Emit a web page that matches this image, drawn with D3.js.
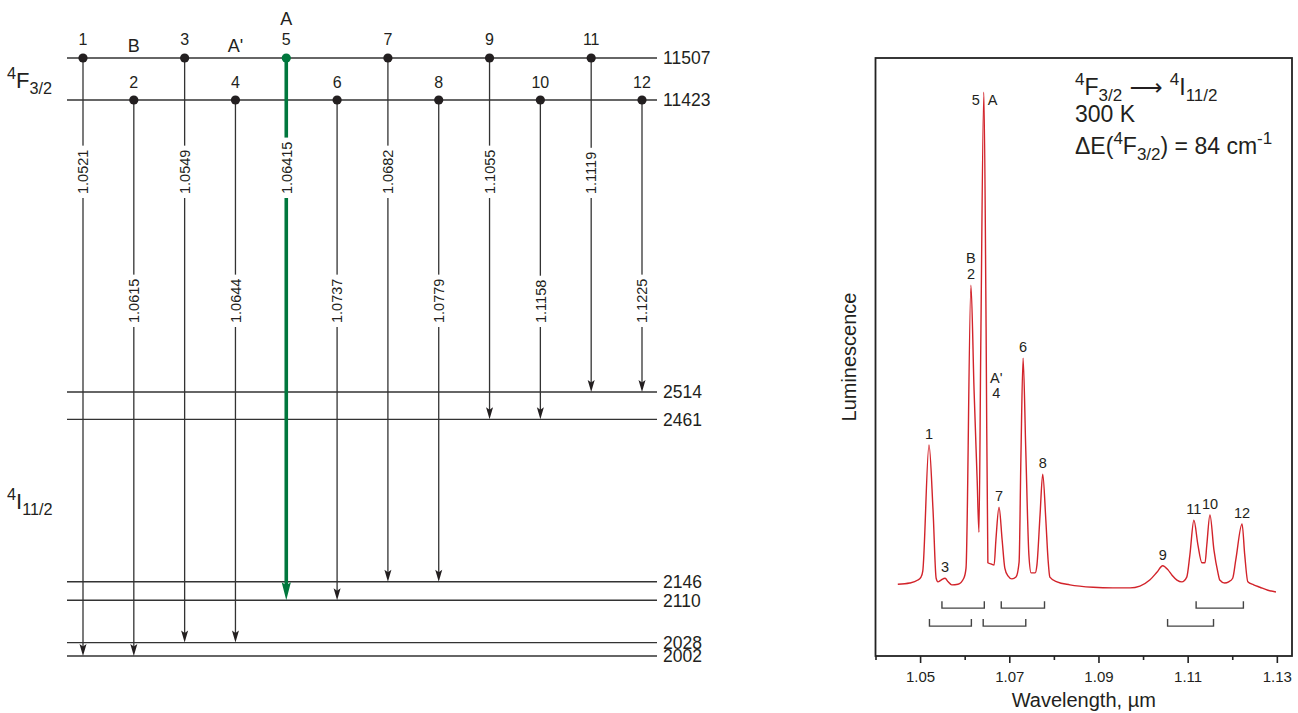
<!DOCTYPE html>
<html>
<head>
<meta charset="utf-8">
<title>Nd 4F3/2 - 4I11/2 luminescence</title>
<script src="https://cdn.jsdelivr.net/npm/d3@7"></script>
<style>
    html, body {margin: 0; padding: 0; background: #fff;}
    svg {display: block; font-family: "Liberation Sans", Arial, Helvetica, sans-serif;}
</style>
</head>
<body>
<svg id="chart" width="1298" height="713"></svg>
<script>
// energy levels, cm-1
var levels = [11507, 11423, 2514, 2461, 2146, 2110, 2028, 2002];

// transitions 4F3/2 -> 4I11/2
var lineIds = [1, 2, 3, 4, 5, 6, 7, 8, 9, 10, 11, 12];
var upperLevels = [11507, 11423, 11507, 11423, 11507, 11423, 11507, 11423, 11507, 11423, 11507, 11423];
var lowerLevels = [2002, 2002, 2028, 2028, 2110, 2110, 2146, 2146, 2461, 2461, 2514, 2514];
var wavelengths = ["1.0521", "1.0615", "1.0549", "1.0644", "1.06415", "1.0737",
                   "1.0682", "1.0779", "1.1055", "1.1158", "1.1119", "1.1225"];
var letterIds = [2, 4, 5];
var letterNames = ["B", "A'", "A"];

// 300 K spectrum (wavelength in um, luminescence arb. units)
var specWl = [1.0450, 1.0477, 1.0495, 1.0502, 1.0506, 1.0520, 1.0529, 1.0536, 1.0540, 1.0547,
              1.0556, 1.0563, 1.0571, 1.0585, 1.0598, 1.0603, 1.0614, 1.0621, 1.0628, 1.0632,
              1.0636, 1.0643, 1.0648, 1.0652, 1.0659, 1.0666, 1.0670, 1.0677, 1.0684, 1.0690,
              1.0697, 1.0706, 1.0715, 1.0722, 1.0726, 1.0731, 1.0737, 1.0744, 1.0749, 1.0758,
              1.0762, 1.0769, 1.0775, 1.0782, 1.0787, 1.0791, 1.0807, 1.0836, 1.0888, 1.0932,
              1.0971, 1.0993, 1.1015, 1.1031, 1.1044, 1.1056, 1.1065, 1.1076, 1.1087, 1.1098,
              1.1105, 1.1114, 1.1123, 1.1132, 1.1139, 1.1143, 1.1150, 1.1159, 1.1168, 1.1172,
              1.1183, 1.1192, 1.1201, 1.1208, 1.1222, 1.1228, 1.1235, 1.1248, 1.1262, 1.1280,
              1.1298];
var specLum = [12.0, 12.2, 12.7, 13.2, 14.2, 35.3, 24.4, 13.0, 12.4, 12.7,
               13.0, 12.4, 11.9, 12.0, 13.0, 14.7, 62.0, 44.5, 29.4, 20.7,
               51.2, 94.3, 55.0, 15.6, 15.4, 15.2, 19.4, 24.9, 19.4, 14.7,
               13.4, 12.9, 13.2, 15.7, 32.8, 49.8, 34.4, 16.9, 13.9, 13.9,
               15.2, 23.6, 30.4, 22.7, 16.1, 13.2, 12.4, 11.9, 11.5, 11.4,
               11.4, 11.7, 12.7, 14.0, 15.1, 14.4, 13.5, 12.7, 12.4, 13.2,
               16.9, 22.7, 18.6, 15.6, 15.6, 18.6, 23.6, 17.7, 13.9, 12.7,
               12.2, 12.4, 13.0, 16.1, 22.1, 16.9, 12.4, 11.9, 11.5, 11.0,
               10.7];

var majorTicks = [1.05, 1.07, 1.09, 1.11, 1.13];
var minorTicks = [1.04, 1.06, 1.08, 1.10, 1.12];

// pairs of lines 84 cm-1 apart
var bracketsLow = [[1, 2], [5, 6], [9, 10]];
var bracketsHigh = [[3, 4], [7, 8], [11, 12]];

var ink = "#231f20", grey = "#333", green = "#00773d", red = "#d2232a";
var svg = d3.select("#chart");

// superscript / subscript text helper
function rich(sel, parts, size) {
    var cur = 0;
    parts.forEach(function(p) {
        var target = p[1] == "sup" ? -0.42 * size : (p[1] == "sub" ? 0.26 * size : 0);
        var ts = sel.append("tspan")
            .attr("dy", target - cur)
            .style("font-size", (p[1] == "n" || p[1] == "arrow" ? size : size * 0.74) + "px")
            .text(p[0]);
        if (p[1] == "arrow") ts.style("font-family", "DejaVu Sans, sans-serif");
        cur = target;
    });
}

var trans = lineIds.map(function(id, i) {
    return {id: id, up: upperLevels[i], low: lowerLevels[i], wl: wavelengths[i], hot: id == 5};
});

// ---------------- level diagram ----------------
var col = d3.scalePoint().domain(lineIds).range([83, 642]);
var eY = d3.scaleLinear().domain([2002, 2514, 11423, 11507]).range([656, 392, 100, 58]);

var left = svg.append("g");

left.selectAll("line.level").data(levels).enter().append("line")
    .attr("class", "level")
    .attr("x1", 67).attr("x2", 657)
    .attr("y1", function(d) {return eY(d);})
    .attr("y2", function(d) {return eY(d);})
    .attr("stroke", grey).attr("stroke-width", 1.4);

left.selectAll("text.level").data(levels).enter().append("text")
    .attr("class", "level")
    .attr("x", 663).attr("y", function(d) {return eY(d);})
    .attr("dy", "0.36em")
    .style("font-size", "17.5px").attr("fill", ink)
    .text(function(d) {return d;});

// vertical transitions with arrowheads
trans.forEach(function(d) {
    var x0 = col(d.id), y1 = eY(d.up), y2 = eY(d.low);
    var hw = d.hot ? 4.6 : 3.5, len = d.hot ? 18 : 12, notch = d.hot ? 3 : 2.5;
    var c = d.hot ? green : grey;
    left.append("line")
        .attr("x1", x0).attr("x2", x0)
        .attr("y1", y1).attr("y2", y2 - len + notch + 1)
        .attr("stroke", c).attr("stroke-width", d.hot ? 3.6 : 1.3);
    left.append("path")
        .attr("d", "M" + x0 + "," + y2 + "L" + (x0 - hw) + "," + (y2 - len) +
                   "L" + x0 + "," + (y2 - len + notch) + "L" + (x0 + hw) + "," + (y2 - len) + "Z")
        .attr("fill", d.hot ? green : ink);
});

// wavelength labels sitting in gaps of the lines
trans.forEach(function(d) {
    var g = left.append("g")
        .attr("transform", "translate(" + col(d.id) + "," + (d.id % 2 ? 194 : 323) + ") rotate(-90)");
    var t = g.append("text")
        .attr("x", 0).attr("y", 0).attr("dy", "0.36em")
        .style("font-size", "14.5px").attr("fill", ink)
        .text(d.wl);
    var bb = t.node().getBBox();
    g.insert("rect", "text")
        .attr("x", bb.x - 4).attr("y", bb.y)
        .attr("width", bb.width + 8).attr("height", bb.height)
        .attr("fill", "#fff");
});

// start dots
left.selectAll("circle").data(trans).enter().append("circle")
    .attr("cx", function(d) {return col(d.id);})
    .attr("cy", function(d) {return eY(d.up);})
    .attr("r", 4.6)
    .attr("fill", function(d) {return d.hot ? green : ink;});

left.selectAll("text.num").data(trans).enter().append("text")
    .attr("class", "num")
    .attr("x", function(d) {return col(d.id);})
    .attr("y", function(d) {return d.id % 2 ? 45 : 88;})
    .attr("text-anchor", "middle")
    .style("font-size", "16px").attr("fill", ink)
    .text(function(d) {return d.id;});

left.selectAll("text.letter").data(letterIds).enter().append("text")
    .attr("class", "letter")
    .attr("x", function(d) {return col(d);})
    .attr("y", function(d) {return d == 5 ? 25 : 52;})
    .attr("text-anchor", "middle")
    .style("font-size", "18px").attr("fill", ink)
    .text(function(d, i) {return letterNames[i];});

rich(left.append("text").attr("x", 7).attr("y", 88).attr("fill", ink),
     [["4", "sup"], ["F", "n"], ["3/2", "sub"]], 22);
rich(left.append("text").attr("x", 7).attr("y", 509).attr("fill", ink),
     [["4", "sup"], ["I", "n"], ["11/2", "sub"]], 22);

// ---------------- spectrum ----------------
var x = d3.scaleLinear().domain([1.04, 1.1334]).range([875.5, 1292]);
var y = d3.scaleLinear().domain([0, 100]).range([656, 58]);

var right = svg.append("g");

right.append("rect")
    .attr("x", x.range()[0]).attr("y", y.range()[1])
    .attr("width", x.range()[1] - x.range()[0])
    .attr("height", y.range()[0] - y.range()[1])
    .attr("fill", "none").attr("stroke", "#222").attr("stroke-width", 1.8);

var axMajor = right.append("g")
    .attr("transform", "translate(0," + y.range()[0] + ")")
    .call(d3.axisBottom(x).tickValues(majorTicks).tickSize(7).tickPadding(8)
            .tickFormat(d3.format(".2f")));
var axMinor = right.append("g")
    .attr("transform", "translate(0," + y.range()[0] + ")")
    .call(d3.axisBottom(x).tickValues(minorTicks).tickSize(4).tickFormat(""));
[axMajor, axMinor].forEach(function(a) {
    a.select(".domain").remove();
    a.selectAll("line").attr("stroke", "#222").attr("stroke-width", 1.6);
    a.selectAll("text").attr("fill", ink)
        .style("font-size", "15px").style("font-family", "Liberation Sans, Arial, sans-serif");
});

right.append("text")
    .attr("x", (x.range()[0] + x.range()[1]) / 2).attr("y", 707)
    .attr("text-anchor", "middle")
    .style("font-size", "20px").attr("fill", ink)
    .text("Wavelength, \u00b5m");

right.append("text")
    .attr("transform", "translate(856," + (y.range()[0] + y.range()[1]) / 2 + ") rotate(-90)")
    .attr("text-anchor", "middle")
    .style("font-size", "20px").attr("fill", ink)
    .text("Luminescence");

var spec = specWl.map(function(w, i) {return [w, specLum[i]];});
right.append("path")
    .datum(spec)
    .attr("d", d3.line()
        .x(function(d) {return x(d[0]);})
        .y(function(d) {return y(d[1]);})
        .curve(d3.curveMonotoneX))
    .attr("fill", "none").attr("stroke", red).attr("stroke-width", 1.4);

// brackets linking lines 84 cm-1 apart
function wlOf(id) {return +wavelengths[lineIds.indexOf(id)];}
function drawBrackets(pairs, level) {
    var yb = y(level);
    pairs.forEach(function(p) {
        right.append("path")
            .attr("d", "M" + x(wlOf(p[0])) + "," + (yb - 7) + "V" + yb +
                       "H" + x(wlOf(p[1])) + "V" + (yb - 7))
            .attr("fill", "none").attr("stroke", "#444").attr("stroke-width", 1.4);
    });
}
drawBrackets(bracketsHigh, 8.0);
drawBrackets(bracketsLow, 5.0);

// peak labels, placed over the local maximum of the spectrum
function peakTop(w) {
    var best = -1;
    specWl.forEach(function(s, i) {
        if (Math.abs(s - w) <= 0.0012 && (best < 0 || specLum[i] > specLum[best])) best = i;
    });
    return {x: x(specWl[best]), y: y(specLum[best])};
}

var peakLabels = [[1, ["1"]], [3, ["3"]], [2, ["B", "2"]], [7, ["7"]], [6, ["6"]], [8, ["8"]],
                  [9, ["9"]], [11, ["11"]], [10, ["10"]], [12, ["12"]]];
peakLabels.forEach(function(p) {
    var top = peakTop(wlOf(p[0]));
    p[1].forEach(function(s, k) {
        right.append("text")
            .attr("x", top.x).attr("y", top.y - 6 - (p[1].length - 1 - k) * 16)
            .attr("text-anchor", "middle")
            .style("font-size", "14.5px").attr("fill", ink)
            .text(s);
    });
});

var top5 = peakTop(wlOf(5));
right.append("text").attr("x", top5.x - 4).attr("y", top5.y + 13)
    .attr("text-anchor", "end").style("font-size", "14.5px").attr("fill", ink).text("5");
right.append("text").attr("x", top5.x + 4).attr("y", top5.y + 13)
    .attr("text-anchor", "start").style("font-size", "14.5px").attr("fill", ink).text("A");

// A'/4 hides under the flank of line 5
var x4 = x(wlOf(4)) + 12;
right.append("text").attr("x", x4).attr("y", y(45.6))
    .attr("text-anchor", "middle").style("font-size", "14.5px").attr("fill", ink).text("A'");
right.append("text").attr("x", x4).attr("y", y(43.1))
    .attr("text-anchor", "middle").style("font-size", "14.5px").attr("fill", ink).text("4");

// caption
var cap = right.append("g").attr("fill", ink);
rich(cap.append("text").attr("x", 1075).attr("y", 95),
     [["4", "sup"], ["F", "n"], ["3/2", "sub"], [" \u27f6 ", "arrow"], ["4", "sup"], ["I", "n"], ["11/2", "sub"]], 23);
cap.append("text").attr("x", 1075).attr("y", 122).style("font-size", "23px").text("300 K");
rich(cap.append("text").attr("x", 1075).attr("y", 154),
     [["\u0394E(", "n"], ["4", "sup"], ["F", "n"], ["3/2", "sub"], [") = 84 cm", "n"], ["-1", "sup"]], 23);
</script>
</body>
</html>
